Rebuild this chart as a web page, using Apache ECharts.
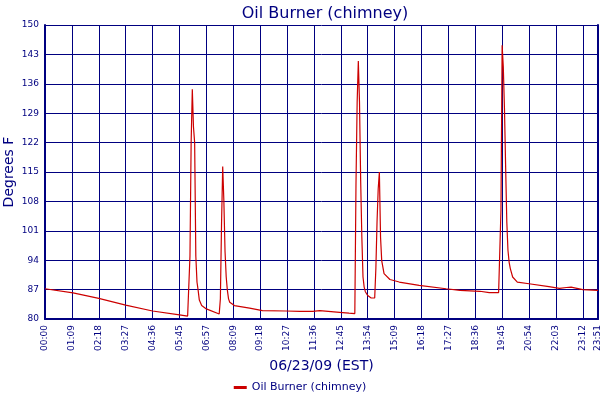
<!DOCTYPE html>
<html lang="en">
    <head>
        <meta charset="UTF-8">
        <title>Oil Burner (chimney)</title>
        <script src="https://cdn.jsdelivr.net/npm/echarts@6/dist/echarts.min.js"></script>
        <style>
            html, body {
                margin: 0;
                width: 100%;
                height: 100%;
                background: #fff;
            }
        </style>
    </head>
    <body>
        <div id="main" style="width: 600px;height: 400px"></div>
    </body>
</html>
<script>
    // x axis: one label every 23 samples, last label is the final sample
    var timeLabels = ['00:00', '01:09', '02:18', '03:27', '04:36', '05:45', '06:57', '08:09',
        '09:18', '10:27', '11:36', '12:45', '13:54', '15:09', '16:18', '17:27', '18:36',
        '19:45', '20:54', '22:03', '23:12', '23:51'];
    var labelStep = 23;
    var lastSample = 473;

    // sample number of each reading
    var sampleIdx = [0, 24, 46, 69, 92, 115, 122, 123,
        124, 125, 126, 127, 128, 129, 130, 131, 132, 134, 138, 149,
        150, 151, 152, 153, 154, 155, 156, 157, 158, 162, 175, 186, 206, 218, 229, 235, 252, 260, 265,
        266, 267, 268, 269, 270, 271, 272, 273, 274, 276, 279, 282,
        283, 284, 285, 286, 287, 288, 290, 295, 303, 320, 343, 355, 372, 380, 388,
        389, 390, 391, 392, 393, 394, 395, 396, 397, 398, 400, 404, 414, 431, 440, 446, 450, 455, 460, 473];

    // chimney temperature, degrees F
    var tempF = [87.2, 86.2, 84.9, 83.3, 81.9, 81.0, 80.7, 80.6,
        95.0, 122.0, 134.7, 125.7, 122.0, 95.0, 88.8, 86.8, 84.5, 83.2, 82.4, 81.2,
        84.8, 102.7, 116.3, 108.0, 96.0, 90.0, 86.8, 84.8, 84.0, 83.2, 82.6, 82.0, 81.9, 81.8, 81.8, 82.0, 81.6, 81.4, 81.3,
        112.2, 131.7, 141.4, 131.7, 113.0, 99.5, 90.0, 87.6, 86.5, 85.6, 85.0, 85.0,
        92.0, 103.1, 111.0, 115.0, 99.5, 93.9, 90.8, 89.4, 88.8, 88.0, 87.2, 86.8, 86.6, 86.3, 86.3,
        86.4, 105.9, 145.2, 140.0, 130.1, 116.2, 103.1, 96.3, 93.5, 92.0, 90.0, 88.8, 88.4, 87.7, 87.3, 87.5, 87.6, 87.3, 87.0, 86.8];

    var navy = '#000080';
    var font = 'DejaVu Sans';

    var points = [];
    for (var i = 0; i < sampleIdx.length; i++) {
        points.push([sampleIdx[i], tempF[i]]);
    }

    var myChart = echarts.init(document.getElementById('main'));

    var option = {
        animation: false,
        backgroundColor: '#fff',
        textStyle: {fontFamily: font, color: navy},
        title: {
            text: 'Oil Burner (chimney)',
            left: 320,
            top: 1,
            textAlign: 'center',
            textStyle: {fontFamily: font, fontSize: 16, fontWeight: 'normal', color: navy}
        },
        legend: {
            bottom: 2,
            left: 'center',
            icon: 'rect',
            itemWidth: 13,
            itemHeight: 3,
            itemGap: 4,
            textStyle: {fontFamily: font, fontSize: 11, color: navy},
            data: ['Oil Burner (chimney)']
        },
        grid: {
            left: 45,
            right: 2,
            top: 25,
            bottom: 81,
            containLabel: false,
            outerBoundsMode: 'none'
        },
        xAxis: {
            type: 'value',
            min: 0,
            max: lastSample,
            interval: labelStep,
            name: '06/23/09 (EST)',
            nameLocation: 'middle',
            nameGap: 40,
            nameMoveOverlap: false,
            nameTextStyle: {fontFamily: font, fontSize: 14, color: navy},
            axisLine: {show: true, lineStyle: {color: navy, width: 2}},
            axisTick: {show: false},
            splitLine: {show: true, lineStyle: {color: navy, width: 1}},
            axisLabel: {
                rotate: 90,
                margin: 6,
                fontFamily: font,
                fontSize: 9,
                color: navy,
                showMinLabel: true,
                showMaxLabel: true,
                formatter: function (v) {
                    if (v === lastSample) {
                        return timeLabels[timeLabels.length - 1];
                    }
                    return timeLabels[Math.round(v / labelStep)];
                }
            }
        },
        yAxis: [
            {
                type: 'value',
                min: 80,
                max: 150,
                interval: 7,
                name: 'Degrees F',
                nameLocation: 'middle',
                nameGap: 29,
                nameMoveOverlap: false,
                nameTextStyle: {fontFamily: font, fontSize: 14, color: navy},
                axisLine: {show: true, lineStyle: {color: navy, width: 2}},
                axisTick: {show: false},
                splitLine: {show: true, lineStyle: {color: navy, width: 1}},
                axisLabel: {fontFamily: font, fontSize: 9, color: navy, margin: 6}
            },
            {
                type: 'value',
                min: 80,
                max: 150,
                position: 'right',
                axisLine: {show: true, lineStyle: {color: navy, width: 2}},
                axisTick: {show: false},
                axisLabel: {show: false},
                splitLine: {show: false}
            }
        ],
        series: [
            {
                name: 'Oil Burner (chimney)',
                type: 'line',
                yAxisIndex: 0,
                data: points,
                symbol: 'none',
                color: '#cc0000',
                lineStyle: {color: '#cc0000', width: 1.2}
            }
        ]
    };

    myChart.setOption(option);
</script>
